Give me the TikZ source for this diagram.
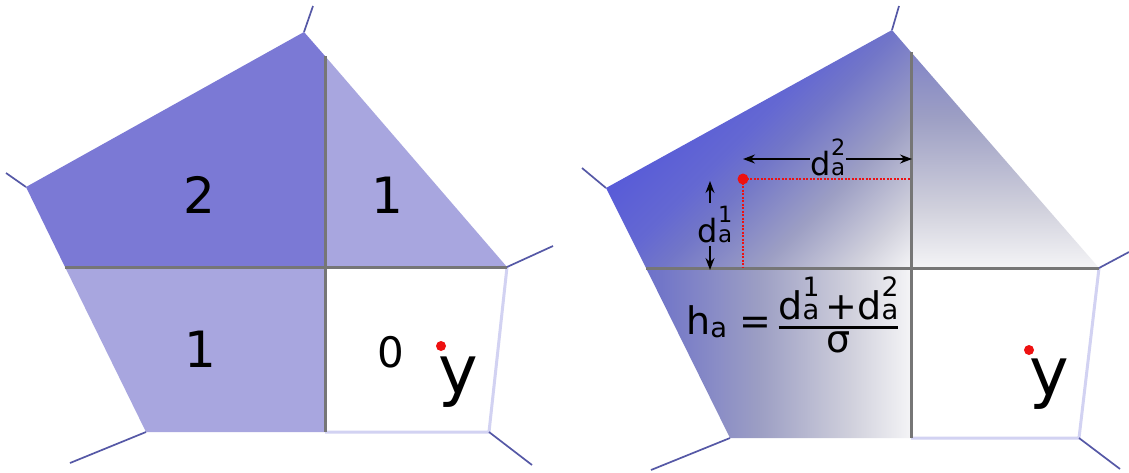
\documentclass[tikz,border=0pt]{standalone}
\usepackage{fontspec}
\setmainfont{DejaVu Sans}
\usepackage{amsmath}
\usetikzlibrary{arrows.meta}
\definecolor{darkcell}{HTML}{7B79D5}
\definecolor{lightcell}{HTML}{A8A6DF}
\definecolor{gridgray}{HTML}{767676}
\definecolor{spikec}{HTML}{5558A6}
\definecolor{rim}{HTML}{D2D2F2}
\definecolor{dotred}{HTML}{EE1111}
\definecolor{hA}{HTML}{5659D9}
\definecolor{hB}{HTML}{6468D2}
\definecolor{hC}{HTML}{7276C8}
\definecolor{hD}{HTML}{9D9FC4}
\definecolor{hE}{HTML}{D0D0DC}
\definecolor{hF}{HTML}{F4F4F6}
\pgfdeclarehorizontalshading{hfield}{100bp}{color(0bp)=(hA); color(37.5bp)=(hA); color(43.75bp)=(hB); color(46.875bp)=(hC); color(53.125bp)=(hD); color(58.75bp)=(hE); color(62.5bp)=(hF); color(100bp)=(hF)}
\newcommand{\suba}{\raisebox{-0.1em}{\scalebox{0.72}{a}}}
\newcommand{\dd}[1]{d\rlap{\raisebox{0.62em}{\scalebox{0.7}{#1}}}\scalebox{0.72}{a}}
\begin{document}
\begin{tikzpicture}[x=1pt,y=-1pt,
  spike/.style={draw=spikec, line width=1.7pt},
  gridl/.style={draw=gridgray, line width=3pt},
  rimline/.style={draw=rim, line width=3pt, line join=round},
  num/.style={font=\fontsize{50}{50}\selectfont, anchor=base, inner sep=0pt},
  ylab/.style={font=\fontsize{67}{67}\selectfont, anchor=base, inner sep=0pt},
  dlab/.style={font=\fontsize{32}{32}\selectfont, anchor=base, inner sep=1pt},
  arr/.style={-{Stealth[length=12pt,width=9pt,inset=4pt]}, line width=1.4pt},
  reddash/.style={draw=dotred, line width=2pt, dash pattern=on 2pt off 1.5pt},
  hf/.style={shading=hfield}]
\useasboundingbox[fill=white] (0,0) rectangle (1129,472);

% ---------------- left panel ----------------
\coordinate (LT) at (304,32);
\coordinate (LL) at (26,187);
\coordinate (LBL) at (146,432);
\coordinate (LBR) at (489,432);
\coordinate (LR) at (507,267);
\coordinate (LVt) at (325,56);
\coordinate (LC) at (325,267);
\coordinate (LVb) at (325,432);
\coordinate (LHl) at (65,267);

\fill[darkcell] (LL) -- (LT) -- (LVt) -- (LC) -- (LHl) -- cycle;
\fill[lightcell] (LVt) -- (LR) -- (LC) -- cycle;
\fill[lightcell] (LHl) -- (LC) -- (LVb) -- (LBL) -- cycle;
\draw[rimline] (LR) -- (LBR) -- (LVb);
\draw[gridl] (LVt) -- (LVb);
\draw[gridl] (LHl) -- (LR);

\coordinate (LsT) at (313,6);
\coordinate (LsL) at (6,173);
\coordinate (LsR) at (553,246);
\coordinate (LsBL) at (70,463);
\coordinate (LsBR) at (532,465);
\draw[spike] (LT) -- (LsT);
\draw[spike] (LL) -- (LsL);
\draw[spike] (LR) -- (LsR);
\draw[spike] (LBL) -- (LsBL);
\draw[spike] (LBR) -- (LsBR);

\node[num] (n2) at (199,213) {2};
\node[num] (n1a) at (387,213) {1};
\node[num] (n1b) at (200,367) {1};
\node[num, font=\fontsize{42}{42}\selectfont] (n0) at (391,367) {0};
\fill[dotred] (441,346) circle (5);
\node[ylab] (yl) at (458,393) {y};

% ---------------- right panel ----------------
\coordinate (RT) at (892,30);
\coordinate (RL) at (606,188);
\coordinate (RBL) at (730,438);
\coordinate (RBR) at (1079,438);
\coordinate (RR) at (1099,268);
\coordinate (RVt) at (911,52);
\coordinate (RC) at (911,268);
\coordinate (RVb) at (911,438);
\coordinate (RHl) at (646,268);

\begin{scope}
  \clip (RL) -- (RT) -- (RVt) -- (RC) -- (RHl) -- cycle;
  \shade[hf, shading angle=-45] (528.2,-114.8) rectangle (1093.8,450.8);
\end{scope}
\begin{scope}
  \clip (RVt) -- (RR) -- (RC) -- cycle;
  \shade[hf, shading angle=-90] (600,-332) rectangle (1400,468);
\end{scope}
\begin{scope}
  \clip (RHl) -- (RC) -- (RVb) -- (RBL) -- cycle;
  \shade[hf] (311,-50) rectangle (1111,750);
\end{scope}
\draw[rimline] (RR) -- (RBR) -- (RVb);
\draw[gridl] (RVt) -- (RVb);
\draw[gridl] (RHl) -- (RR);

\coordinate (RsT) at (899,6);
\coordinate (RsL) at (582,168);
\coordinate (RsR) at (1129,252);
\coordinate (RsBL) at (651,470);
\coordinate (RsBR) at (1120,469);
\draw[spike] (RT) -- (RsT);
\draw[spike] (RL) -- (RsL);
\draw[spike] (RR) -- (RsR);
\draw[spike] (RBL) -- (RsBL);
\draw[spike] (RBR) -- (RsBR);

% red point and distances
\coordinate (pa) at (743,179);
\coordinate (pv) at (911,179);
\coordinate (ph) at (743,268);
\draw[reddash] (pa) -- (pv);
\draw[reddash] (pa) -- (ph);
\fill[dotred] (pa) circle (5.5);

\coordinate (d2L) at (743,159);
\coordinate (d2R) at (912,159);
\node[dlab] (d2) at (828,175) {\dd{2}};
\draw[arr] (d2.west |- d2L) -- (d2L);
\draw[arr] (d2.east |- d2R) -- (d2R);

\coordinate (d1T) at (710,181);
\coordinate (d1B) at (710,270);
\node[dlab] (d1) at (715,242) {\dd{1}};
\draw[arr] (d1T |- d1.north) ++(0,-2) -- (d1T);
\draw[arr] (d1B |- d1.south) ++(0,2) -- (d1B);

\node[anchor=base west, inner sep=0pt, font=\fontsize{38}{38}\selectfont] (ha) at (686,334)
  {h\suba{} =\,$\genfrac{}{}{2.6pt}{1}{\mbox{\dd{1}\,+\dd{2}\rule[-4pt]{0pt}{1pt}}}{\mbox{σ}}$};

\fill[dotred] (1029,350) circle (5);
\node[ylab] (yr) at (1049,395) {y};
\end{tikzpicture}
\end{document}
